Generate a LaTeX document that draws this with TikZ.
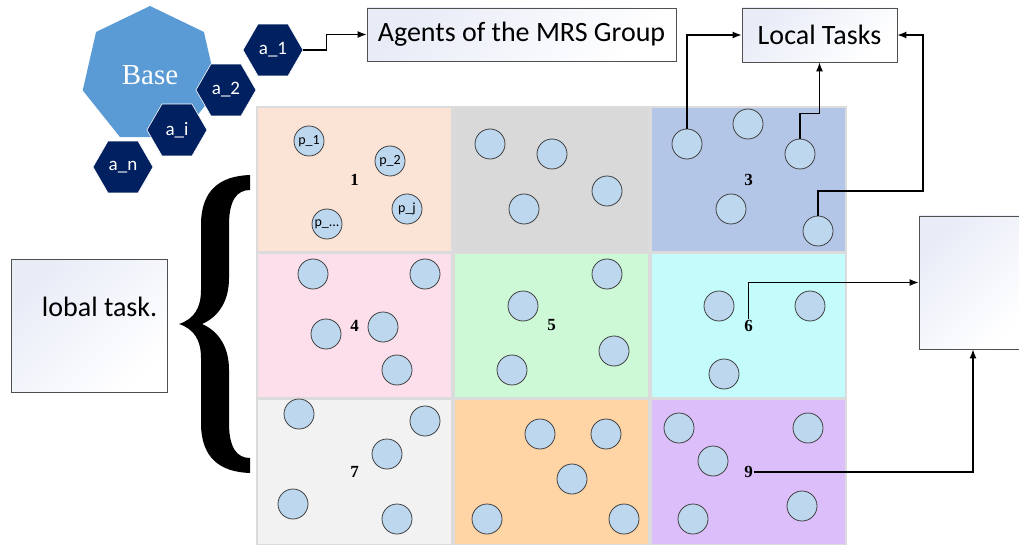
\documentclass[tikz,border=0pt]{standalone}
\usepackage{fontspec}
\setmainfont{Carlito}
\newfontfamily\romanfont{Liberation Serif}
\usepackage{tikz}
\usetikzlibrary{shapes.geometric, arrows.meta, positioning}
\definecolor{basecolor}{RGB}{91, 155, 213}
\definecolor{agentcolor}{RGB}{0, 32, 96}
\definecolor{robotcolor}{RGB}{189, 215, 238}
\definecolor{boxshade}{RGB}{232, 236, 247}
\definecolor{boxline}{RGB}{80, 80, 80}
\definecolor{cellA}{RGB}{251, 228, 213}
\definecolor{cellB}{RGB}{217, 217, 217}
\definecolor{cellC}{RGB}{180, 198, 231}
\definecolor{cellD}{RGB}{253, 223, 236}
\definecolor{cellE}{RGB}{205, 249, 215}
\definecolor{cellF}{RGB}{196, 252, 252}
\definecolor{cellG}{RGB}{242, 242, 242}
\definecolor{cellH}{RGB}{255, 213, 165}
\definecolor{cellI}{RGB}{220, 190, 250}

\begin{document}
\begin{tikzpicture}[x=1pt, y=-1pt,
    base/.style={regular polygon, regular polygon sides=7, fill=basecolor, minimum size=138pt, inner sep=0pt, text=white, font=\romanfont\fontsize{29}{30}\selectfont},
    agent/.style={regular polygon, regular polygon sides=6, fill=agentcolor, draw=white, line width=0.6pt, minimum size=60pt, inner sep=0pt, text=white, font=\fontsize{19}{20}\selectfont},
    taskbox/.style={draw=boxline, line width=0.9pt, top color=boxshade, bottom color=white, shading angle=45, inner sep=0pt, font=\fontsize{28}{32}\selectfont},
    cell/.style={draw=gray!28, line width=1.5pt, minimum width=195pt, minimum height=145pt, inner sep=0pt},
    robot/.style={circle, draw=black!75, line width=0.8pt, fill=robotcolor, minimum size=30pt, inner sep=0pt, font=\fontsize{14}{14}\selectfont},
    num/.style={font=\romanfont\bfseries\fontsize{17}{17}\selectfont, inner sep=1pt},
    arrow/.style={-{Latex[length=9pt,width=7pt]}, line width=1.2pt}
]
\clip (0,0) rectangle (1019,545);

% Base and agents
\node[base] (base) at (150,75) {Base};
\node[agent] (a2) at (226,90) {a\_2};
\node[agent] (ai) at (177,130) {a\_i};
\node[agent] (an) at (123,167) {a\_n};
\node[agent] (a1) at (273,50) {a\_1};

% Task boxes
\node[taskbox, minimum width=309pt, minimum height=53pt] (group) at (521.5,34.5) {Agents of the MRS Group};
\node[taskbox, minimum width=155pt, minimum height=54pt] (local) at (819.5,35) {Local Tasks};
\node[taskbox, minimum width=156pt, minimum height=133pt] (global) at (89,325.5) {};
\node[anchor=east, inner sep=0pt, font=\fontsize{28}{32}\selectfont] (globaltext) at ([xshift=-10pt, yshift=19pt]global.east) {lobal task.};
\node[taskbox, minimum width=108pt, minimum height=133pt] (result) at (973,282.5) {};

% Brace
\fill (250,175) .. controls (220,176) and (201,190) .. (201,225) -- (201,290)
  .. controls (201,308) and (194,319) .. (179,324)
  .. controls (194,329) and (201,340) .. (201,358) -- (201,423)
  .. controls (201,458) and (220,472) .. (250,473) -- (250,458)
  .. controls (237,458) and (229,448) .. (229,423) -- (229,370)
  .. controls (229,346) and (218,331) .. (202,324)
  .. controls (218,317) and (229,302) .. (229,278) -- (229,225)
  .. controls (229,200) and (237,190) .. (250,190) -- cycle;

% Grid of regions
\foreach \n/\x/\y/\clr in {1/354.5/179.5/cellA, 2/551.5/179.5/cellB, 3/748.5/179.5/cellC,
    4/354.5/325.5/cellD, 5/551.5/325.5/cellE, 6/748.5/325.5/cellF,
    7/354.5/472/cellG, 8/551.5/472/cellH, 9/748.5/472/cellI}
  \node[cell, fill=\clr] (cell\n) at (\x,\y) {};
\foreach \n in {1,3,4,5,6,7,9}
  \node[num] (lab\n) at (cell\n) {\n};

% Robots
\node[robot] (c11) at (309,141) {p\_1};
\node[robot] (c12) at (390,161) {p\_2};
\node[robot] (c13) at (407,209) {p\_j};
\node[robot] (c14) at (327,224) {p\_...};
\foreach \name/\x/\y in {c21/490/144, c22/552/154, c23/607/191, c24/524/209,
    c31/687/144, c32/748/124, c33/800/154, c34/731/209, c35/818/231,
    c41/313/274, c42/425/274, c43/326/334, c44/383/327, c45/397/370,
    c51/607/274, c52/523/306, c53/614/351, c54/512/370,
    c61/719/306, c62/810/306, c63/724/374,
    c71/299/414, c72/425/421, c73/387/454, c74/293/504, c75/397/519,
    c81/540/434, c82/606/434, c83/572/479, c84/487/519, c85/624/519,
    c91/679/428, c92/808/428, c93/713/461, c94/693/519, c95/802/506}
  \node[robot] (\name) at (\x,\y) {};

% Flow
\coordinate (bend) at (923,191);
\draw[arrow] (a1.east) -- ++(23,0) |- (group.west);
\draw[arrow] (c31.north) |- (local.west);
\draw[arrow] (c33.north) -- ++(0,-25) -| (local.south);
\draw[arrow] (c35.north) |- (bend) |- (local.east);
\draw[arrow] (lab6.north) |- (result.west);
\draw[arrow] (lab9.east) -| (result.south);

\end{tikzpicture}
\end{document}
